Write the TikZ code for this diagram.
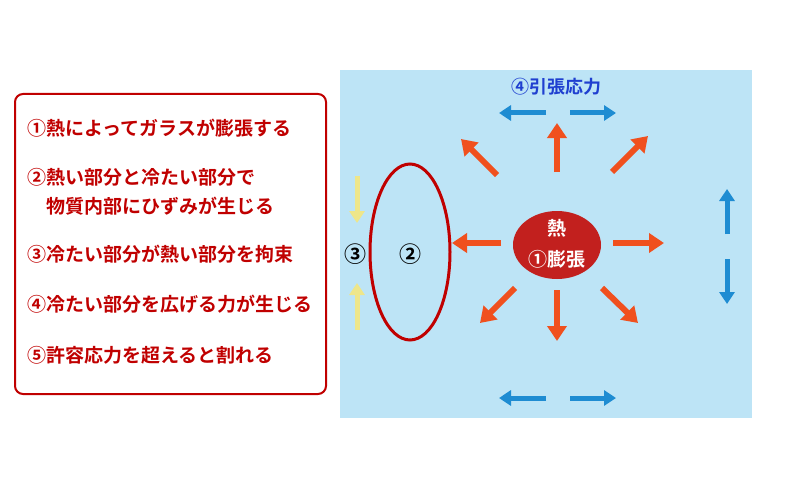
\documentclass[tikz,border=0pt]{standalone}
\usepackage{fontspec}
\setmainfont{Noto Sans CJK JP}[BoldFont={* Bold}]
\usetikzlibrary{arrows.meta,shapes.geometric}
\definecolor{bgblue}{HTML}{BDE4F6}
\definecolor{dred}{HTML}{C00000}
\definecolor{hot}{HTML}{C2201E}
\definecolor{orng}{HTML}{F0501E}
\definecolor{blu}{HTML}{1E8CD2}
\definecolor{tblu}{HTML}{1F3FD0}
\definecolor{ylw}{HTML}{EEE68A}
\begin{document}
\begin{tikzpicture}[x=1pt,y=-1pt,
  txt/.style={anchor=west,text=dred,font=\bfseries\fontsize{19}{19}\selectfont,inner sep=0},
  oar/.style={orng,line width=6pt,-{Triangle[length=15pt,width=19pt]}},
  bar/.style={blu,line width=5pt,-{Triangle[length=12pt,width=15pt]}},
  yar/.style={ylw,line width=5pt,-{Triangle[length=12pt,width=15pt]}}]
\useasboundingbox (0,0) rectangle (788,487);
\node[draw=dred,line width=2pt,rounded corners=8pt,minimum width=311pt,minimum height=300pt,anchor=north west] (box) at (14,93) {};
\node[txt] (t1) at (27,128) {①熱によってガラスが膨張する};
\node[txt] (t2) at (27,177) {②熱い部分と冷たい部分で};
\node[txt] (t2b) at (46,206) {物質内部にひずみが生じる};
\node[txt] (t3) at (27,254) {③冷たい部分が熱い部分を拘束};
\node[txt] (t4) at (27,304) {④冷たい部分を広げる力が生じる};
\node[txt] (t5) at (27,355) {⑤許容応力を超えると割れる};
\fill[bgblue] (340,70) rectangle (752,418);
\node[text=tblu,font=\bfseries\fontsize{18}{18}\selectfont] (ten) at (556,87) {④引張応力};
\coordinate (c) at (557,245);
\node[ellipse,fill=hot,minimum width=88pt,minimum height=68pt] (heat) at (c) {};
\node[text=white,font=\bfseries\fontsize{19}{19}\selectfont] (h1) at (557,228) {熱};
\node[text=white,font=\bfseries\fontsize{19}{19}\selectfont] (h2) at (557,259) {①膨張};
\draw[oar] (557,172) -- (557,123);
\draw[oar] (557,290) -- (557,341);
\draw[oar] (501,243) -- (452,243);
\draw[oar] (613,243) -- (664,243);
\draw[oar] (497,175) -- (461,139);
\draw[oar] (612,172) -- (648,136);
\draw[oar] (515,288) -- (480,323);
\draw[oar] (602,288) -- (638,323);
\draw[bar] (546,113) -- (499,113);
\draw[bar] (570,113) -- (616,113);
\draw[bar] (546,398) -- (499,398);
\draw[bar] (570,398) -- (616,398);
\draw[bar] (727,234) -- (727,189);
\draw[bar] (727,259) -- (727,304);
\draw[yar] (357,176) -- (357,223);
\draw[yar] (357,330) -- (357,283);
\draw[dred,line width=3pt] (410,252) ellipse [x radius=40,y radius=88];
\node[font=\bfseries\fontsize{22}{22}\selectfont] (n3) at (355,254) {③};
\node[font=\bfseries\fontsize{22}{22}\selectfont] (n2) at (410,254) {②};
\end{tikzpicture}
\end{document}
